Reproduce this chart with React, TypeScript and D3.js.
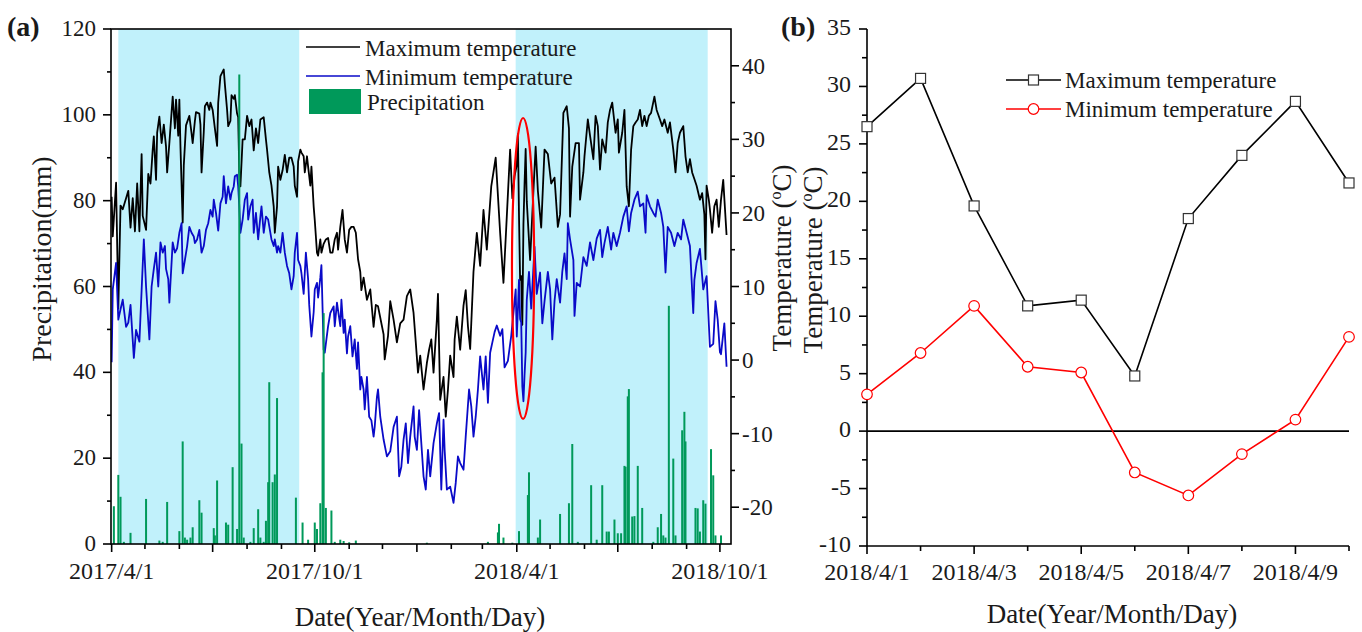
import React from "react";
import * as d3 from "d3";

const START = new Date(2017, 3, 1);

// [day since 2017/4/1, °C]
const maxTemperature: [number, number][] = [
  [0, 22.2], [1, 16.8], [4, 24.1], [6, 7], [8, 21], [10, 20.5], [13, 22], [15, 23], [17, 18], [19, 22],
  [21, 17.5], [23, 24], [25, 17.5], [27, 28], [28, 19.6], [31, 17.7], [33, 25.3], [35, 24], [37, 28.6], [38, 30.4],
  [40, 24.5], [41, 30.9], [43, 33.1], [45, 29.5], [47, 32], [49, 29], [50, 25.5], [52, 29.5], [55, 35.8], [57, 31.5],
  [58, 35.4], [60, 30.5], [61, 35.4], [62, 29], [64, 18.7], [65, 26.5], [67, 31.9], [70, 33.2], [72, 30.8], [73, 29.5],
  [75, 32.5], [76, 33.7], [79, 33.5], [80, 32], [81, 25.5], [83, 31], [84, 34.5], [86, 35], [88, 34], [89, 35],
  [91, 34], [93, 31.5], [95, 29.1], [96, 35], [98, 38.6], [100, 39.2], [101, 39.5], [102, 37.5], [104, 34], [105, 31.8],
  [107, 32.5], [108, 36], [110, 35.5], [111, 36], [113, 33.5], [114, 33], [115, 25.5], [116, 23.6], [118, 30], [120, 30],
  [122, 33.2], [124, 31.8], [126, 32.7], [128, 28.5], [130, 31.5], [132, 29.5], [134, 32.7], [137, 33], [139, 30], [140, 28.6],
  [142, 25.5], [144, 23.7], [146, 20.9], [147, 17.3], [149, 20.9], [150, 26.3], [152, 24.5], [154, 25.8], [156, 27.9], [158, 25.5],
  [160, 27.5], [162, 27.5], [164, 26.3], [165, 23.7], [167, 22.2], [168, 27], [170, 28.6], [171, 28.2], [173, 27.7], [174, 25.5],
  [176, 27.7], [177, 26.3], [179, 23.7], [180, 26.3], [182, 20.9], [183, 19], [185, 14.6], [186, 14.2], [188, 16.4], [189, 14.6],
  [191, 15.8], [193, 16.4], [195, 16.6], [197, 14.6], [199, 14.6], [201, 16.4], [203, 17.3], [204, 15], [206, 18.1], [208, 20.4],
  [210, 16.4], [212, 14.6], [214, 17.7], [216, 18.1], [218, 18.1], [220, 17.3], [222, 13.7], [224, 12], [225, 9.5], [227, 11.2],
  [230, 8.2], [233, 9.6], [236, 4.5], [238, 7.5], [240, 7.3], [243, 5], [245, 3.5], [246, 0.1], [249, 3.3], [251, 8],
  [254, 5.5], [257, 2.4], [260, 5], [263, 5.5], [266, 8.7], [269, 9.6], [272, 6.4], [274, 2.4], [276, -1.7], [278, 0.6],
  [281, -4], [284, -0.4], [286, 1.4], [288, 2.8], [290, -1.7], [293, 5.5], [294, 9], [296, -5.4], [299, -2.3], [301, -7.7],
  [303, -4], [305, 0.6], [308, -2.3], [309, 2.8], [311, 5.9], [314, 1.4], [317, 7.4], [319, 9.5], [321, 4.6], [323, 1.5],
  [325, 8.5], [326, 12], [329, 17.3], [332, 12.8], [335, 20.4], [338, 15], [342, 23.6], [346, 27.5], [350, 17.3], [353, 10.5],
  [356, 19.5], [359, 28.6], [361, 22], [363, 25], [365, 26.5], [366, 30.7], [367, 19.6], [368, 10.9], [369, 11.4], [370, 4.8],
  [371, 18.5], [372, 24], [373, 28.7], [374, 21.6], [377, 13.6], [380, 23], [382, 29], [384, 23], [387, 18], [390, 28.6],
  [393, 28], [396, 24], [399, 24.8], [402, 18.1], [404, 19.8], [407, 33.6], [410, 34.5], [412, 31.5], [413, 19.5], [415, 26.3],
  [418, 29.5], [421, 29.5], [422, 21.8], [425, 25.5], [426, 27.7], [429, 32.7], [431, 30.5], [434, 27.3], [436, 33.2], [438, 31.8],
  [440, 25.9], [442, 30], [445, 28.2], [447, 32.3], [449, 34], [451, 35], [454, 30.9], [456, 32.7], [457, 28.2], [460, 30.9],
  [462, 34], [464, 23.6], [466, 20.9], [468, 28.6], [470, 31.8], [472, 32.3], [474, 32.7], [476, 34], [478, 31.8], [480, 33.2],
  [482, 31.8], [484, 33.2], [486, 33.6], [489, 35.8], [491, 34], [494, 32.7], [496, 31.8], [498, 32.7], [501, 30.9], [503, 32.3],
  [506, 28.6], [508, 25.5], [510, 29.5], [512, 30.9], [515, 31.8], [517, 27.7], [519, 25.5], [521, 27.3], [523, 25.5], [525, 24.6],
  [527, 23.7], [530, 21.8], [532, 22.7], [534, 19.8], [535, 13.7], [536, 23.7], [538, 21.8], [539, 20.5], [541, 17.3], [543, 20.9],
  [545, 21.8], [547, 18.1], [549, 21.8], [551, 24.5], [554, 17],
];

const minTemperature: [number, number][] = [
  [0, -0.3], [1, 9.6], [4, 13.2], [6, 5.5], [8, 6.9], [10, 8.2], [13, 4.5], [15, 5.1], [17, 7.5], [20, 0.3],
  [22, 4.1], [25, 2.5], [27, 9.5], [29, 16.4], [31, 10], [34, 2.8], [36, 10], [38, 12.4], [40, 14.6], [42, 10],
  [44, 16], [46, 14.6], [48, 15.5], [49, 12.4], [51, 11], [52, 7.8], [55, 16], [57, 14.6], [59, 15.2], [61, 17.3],
  [63, 18.6], [64, 11.8], [66, 13.6], [68, 15.5], [70, 18.1], [72, 17.3], [74, 16.8], [75, 15.9], [77, 16.4], [79, 17.7],
  [81, 14.6], [83, 15.5], [85, 17.7], [87, 18.6], [89, 20.4], [91, 19.5], [92, 21.8], [94, 20], [96, 17.6], [98, 21.3],
  [100, 22.2], [101, 25], [103, 21.3], [105, 23.6], [107, 21.8], [108, 22.7], [110, 23.6], [111, 25], [113, 25.2], [114, 23.6],
  [115, 20.9], [116, 17.3], [118, 19.1], [120, 21.8], [122, 22.7], [123, 19.1], [125, 20.9], [127, 21.8], [128, 17.3], [130, 20],
  [132, 16.4], [134, 19.5], [135, 20.9], [137, 17.3], [139, 19.5], [141, 19.1], [143, 17.3], [144, 16.4], [146, 15.5], [147, 16.4],
  [149, 14.6], [150, 15.5], [152, 14.6], [154, 17.3], [156, 14.6], [158, 12.8], [160, 11.8], [162, 9.6], [164, 11.4], [165, 14.6],
  [167, 17.3], [168, 13.6], [170, 12.8], [171, 11.8], [173, 9], [175, 14.6], [177, 11], [178, 7.5], [180, 3.2], [182, 6.5],
  [183, 9.6], [185, 10.5], [186, 8.5], [188, 11.2], [189, 12.9], [191, 1.4], [192, 1], [195, 4.6], [197, 6.4], [200, 7.3],
  [201, 4.6], [203, 7.8], [206, 4.6], [207, 8.2], [209, 3.7], [210, 5.5], [212, 0.9], [213, 3.2], [215, 4.6], [217, 0.5],
  [219, 2.8], [221, -1.2], [222, 2.4], [224, -4], [225, -2.3], [227, -4], [228, -6.7], [230, -2.3], [232, -7.7], [234, -8.2],
  [236, -10.4], [237, -9.1], [239, -5], [240, -4], [242, -7.7], [245, -10.8], [248, -13.1], [251, -12.4], [254, -9.1], [257, -7.7],
  [259, -15.8], [261, -14.5], [263, -10.8], [265, -8.6], [267, -14], [269, -10.4], [272, -6.3], [273, -10.4], [275, -12.2], [277, -6.8],
  [279, -11.3], [281, -15.8], [283, -17.6], [285, -12.2], [287, -15.8], [290, -11.3], [293, -8.6], [295, -7.2], [297, -17.6], [299, -8.1],
  [300, -12.2], [302, -17.6], [305, -17.2], [308, -19.4], [310, -16.7], [312, -13.1], [314, -14], [317, -14.9], [319, -10.4], [322, -4],
  [324, -6.3], [326, -10.4], [328, -7.7], [330, -4], [332, 0.5], [335, -4], [337, 0.5], [339, -5.8], [341, 1], [343, 2.4],
  [345, 3.8], [347, 4.7], [350, 3.3], [352, 4.2], [354, -1], [357, -0.1], [360, 3.3], [362, 6.4], [364, 9.6], [365, 3.2],
  [366, 6.8], [367, 10.9], [368, 5.6], [369, 5.1], [370, -3.6], [371, -5.6], [372, -2], [373, 1], [374, 8.2], [376, 12],
  [378, 7], [381, 15.4], [383, 9], [386, 11.9], [388, 5], [390, 8], [393, 12], [395, 9.6], [397, 2.8], [399, 8],
  [401, 11], [404, 7.8], [406, 12], [408, 14.5], [410, 11], [411, 18.6], [413, 16.4], [416, 13.6], [417, 6], [419, 10.5],
  [422, 10], [425, 14], [428, 12.8], [431, 16], [434, 13.6], [437, 16.5], [440, 17.7], [442, 14], [444, 15.9], [447, 18.1],
  [450, 15], [452, 17.3], [455, 15.5], [458, 17.3], [461, 19.5], [464, 20.9], [466, 17.5], [468, 20], [471, 21.8], [474, 22.9],
  [476, 20.9], [479, 21.3], [481, 17.3], [482, 22.4], [485, 20.9], [488, 20], [490, 19.5], [492, 21.8], [495, 20], [497, 18.1],
  [499, 11.9], [501, 18.1], [504, 17.3], [507, 15.5], [510, 17.3], [513, 16.4], [515, 19.1], [518, 17.3], [521, 15.5], [524, 6.4],
  [525, 10.9], [527, 13.2], [530, 15.1], [533, 9.6], [536, 11.4], [539, 1.8], [542, 2.2], [544, 8], [546, 5.5], [548, 1.1],
  [549, 0.8], [552, 5], [554, -0.9],
];

// [day since 2017/4/1, mm]
const precipitation: [number, number][] = [
  [2, 8.8], [6, 16.1], [8, 11], [11, 0.5], [17, 2.6], [31, 10.5], [43, 0.8], [46, 0.5], [50, 9.8], [61, 3],
  [64, 23.9], [66, 1.5], [68, 1], [71, 1.5], [73, 3.9], [79, 10.2], [81, 7.3], [92, 3.7], [93, 2], [95, 14.8],
  [103, 5], [105, 4.5], [109, 17.9], [113, 3.5], [115, 109.4], [117, 23.4], [119, 1.5], [125, 0.5], [128, 3.7], [132, 8.1],
  [134, 1.5], [137, 0.5], [139, 5.4], [141, 14.4], [142, 37.7], [145, 14.4], [147, 16.2], [149, 34], [166, 10.8], [172, 5],
  [177, 1], [183, 5], [185, 3.5], [188, 9.5], [190, 40], [191, 53.8], [193, 8.4], [198, 7.8], [201, 0.5], [206, 1],
  [209, 0.7], [214, 0.4], [220, 0.8], [284, 0.3], [339, 0.5], [348, 2.7], [349, 4.7], [353, 1.5], [361, 0.3], [367, 3],
  [375, 11.4], [376, 16.7], [384, 1.5], [386, 5.7], [404, 7], [412, 9.5], [415, 23.3], [420, 0.5], [432, 13.7], [437, 1],
  [442, 13.7], [446, 2.9], [448, 2.9], [453, 5.7], [456, 2.5], [459, 2.5], [462, 18.2], [463, 18], [465, 34.4], [466, 36.1],
  [469, 6.4], [471, 6.5], [474, 18.2], [478, 8.4], [488, 0.5], [492, 3.9], [495, 7], [497, 2], [499, 1.5], [502, 55.5],
  [506, 19.9], [508, 2], [514, 26.5], [516, 30.8], [517, 23.9], [526, 8.4], [528, 8.3], [530, 2.9], [533, 10.2], [535, 9.4],
  [540, 22.1], [542, 16], [544, 2], [549, 2],
];

// growing-season shading, [start day, end day]
const seasons: [number, number][] = [[6, 169], [364, 537]];

// panel (b)
const bDates = ["2018/4/1", "2018/4/2", "2018/4/3", "2018/4/4", "2018/4/5", "2018/4/6", "2018/4/7", "2018/4/8", "2018/4/9", "2018/4/10"];
const bMax = [26.5, 30.7, 19.6, 10.9, 11.4, 4.8, 18.5, 24.0, 28.7, 21.6];
const bMin = [3.2, 6.8, 10.9, 5.6, 5.1, -3.6, -5.6, -2.0, 1.0, 8.2];

const FONT = "'Liberation Serif','Times New Roman',Times,serif";
const GREEN = "#00995a";
const BLUE = "#0a0ac8";
const CYAN = "#c1f1fb";
const INK = "#1a1a1a";

const parseB = d3.timeParse("%Y/%m/%d");
const fmtA = d3.timeFormat("%Y/%-m/%-d");

export default function App() {
  const a = { left: 111, right: 731, top: 29, bottom: 544 };
  const xA = d3.scaleTime().domain([new Date(2017, 2, 31, 10), new Date(2018, 9, 11)]).range([a.left, a.right]);
  const yP = d3.scaleLinear().domain([0, 120]).range([a.bottom, a.top]);
  const yT = d3.scaleLinear().domain([-25, 45]).range([a.bottom, a.top]);
  const dd = (d: number) => d3.timeDay.offset(START, d);

  const tLine = d3.line<[number, number]>().x((p) => xA(dd(p[0]))).y((p) => yT(p[1]));
  const months = d3.timeMonth.range(new Date(2017, 3, 1), new Date(2018, 9, 2));

  // ellipse around early April 2018
  const eCx = xA(d3.timeHour.offset(dd(370), 16));
  const eRx = xA(dd(380)) - xA(dd(370));
  const eTop = yT(32.9), eBot = yT(-8);

  const b = { left: 867, right: 1349, top: 29, bottom: 546 };
  const bx = bDates.map((s) => parseB(s) as Date);
  const xB = d3.scaleTime().domain([bx[0], bx[bx.length - 1]]).range([b.left, b.right]);
  const yB = d3.scaleLinear().domain([-10, 35]).range([b.bottom, b.top]);
  const bLine = d3.line<number>().x((_, i) => xB(bx[i])).y((v) => yB(v));

  return (
    <svg width={1362} height={632} style={{ position: "absolute", left: 0, top: 0, background: "#fff" }} fontFamily={FONT}>
      <defs>
        <clipPath id="clipA">
          <rect x={a.left} y={a.top} width={a.right - a.left} height={a.bottom - a.top} />
        </clipPath>
      </defs>

      {/* ---------- panel (a) ---------- */}
      {seasons.map(([s, e], i) => (
        <rect key={i} x={xA(dd(s))} y={a.top} width={xA(dd(e)) - xA(dd(s))} height={a.bottom - a.top} fill={CYAN} />
      ))}
      <g clipPath="url(#clipA)">
        <path d={tLine(maxTemperature) || ""} fill="none" stroke="#000" strokeWidth={1.8} strokeLinejoin="round" />
        <path d={tLine(minTemperature) || ""} fill="none" stroke={BLUE} strokeWidth={1.8} strokeLinejoin="round" />
        {precipitation.map(([d, v], i) => (
          <rect key={i} x={xA(dd(d)) - 1} y={yP(v)} width={2} height={yP(0) - yP(v)} fill={GREEN} />
        ))}
        <ellipse cx={eCx} cy={(eTop + eBot) / 2} rx={eRx} ry={(eBot - eTop) / 2} fill="none" stroke="#f00" strokeWidth={2.2} />
      </g>
      <rect x={a.left} y={a.top} width={a.right - a.left} height={a.bottom - a.top} fill="none" stroke="#000" strokeWidth={1.6} />

      {/* bottom axis */}
      {months.map((m, i) => {
        const major = m.getMonth() % 3 === 0;
        const x = xA(m);
        return (
          <g key={i}>
            <line x1={x} x2={x} y1={a.bottom} y2={a.bottom + (major ? 8 : 5)} stroke="#000" strokeWidth={1.6} />
            {m.getMonth() % 6 === 3 && (
              <text x={x} y={579} fontSize={24} textAnchor="middle" fill={INK}>{fmtA(m)}</text>
            )}
          </g>
        );
      })}
      {/* left axis */}
      {d3.range(0, 121, 10).map((v) => {
        const major = v % 20 === 0;
        return (
          <g key={v}>
            <line x1={a.left - (major ? 8 : 4)} x2={a.left} y1={yP(v)} y2={yP(v)} stroke="#000" strokeWidth={1.6} />
            {major && (
              <text x={96} y={yP(v) + 7} fontSize={23} textAnchor="end" fill={INK}>{v}</text>
            )}
          </g>
        );
      })}
      {/* right axis */}
      {d3.range(-20, 41, 5).map((v) => {
        const major = v % 10 === 0;
        return (
          <g key={v}>
            <line x1={a.right} x2={a.right + (major ? 8 : 4)} y1={yT(v)} y2={yT(v)} stroke="#000" strokeWidth={1.6} />
            {major && (
              <text x={742} y={yT(v) + 8} fontSize={23} textAnchor="start" fill={INK}>{v}</text>
            )}
          </g>
        );
      })}

      <text transform="translate(51,259) rotate(-90)" fontSize={28} textAnchor="middle" fill={INK}>Precipitation(mm)</text>
      <text transform="translate(791,258) rotate(-90)" fontSize={27} textAnchor="middle" fill={INK}>
        Temperature (<tspan fontSize={16} dy={-10}>o</tspan><tspan dy={10}>C)</tspan>
      </text>
      <text x={420} y={626} fontSize={27} textAnchor="middle" fill={INK}>Date(Year/Month/Day)</text>
      <text x={7} y={36} fontSize={28} fontWeight="bold" fill={INK}>(a)</text>

      {/* legend (a) */}
      <line x1={306} x2={360} y1={47} y2={47} stroke="#000" strokeWidth={1.6} />
      <text x={365} y={56} fontSize={23} fill={INK}>Maximum temperature</text>
      <line x1={306} x2={360} y1={76} y2={76} stroke={BLUE} strokeWidth={1.6} />
      <text x={365} y={85} fontSize={23} fill={INK}>Minimum temperature</text>
      <rect x={309} y={89} width={52} height={25} fill={GREEN} />
      <text x={367} y={110} fontSize={23} fill={INK}>Precipitation</text>

      {/* ---------- panel (b) ---------- */}
      <line x1={b.left} x2={b.left} y1={b.top} y2={b.bottom} stroke="#000" strokeWidth={1.6} />
      <line x1={b.left} x2={b.right} y1={b.bottom} y2={b.bottom} stroke="#000" strokeWidth={1.6} />
      <line x1={b.left} x2={b.right} y1={yB(0)} y2={yB(0)} stroke="#000" strokeWidth={1.6} />
      {bx.map((d, i) => {
        const x = xB(d);
        const major = i % 2 === 0;
        return (
          <g key={i}>
            <line x1={x} x2={x} y1={b.bottom} y2={b.bottom + (major ? 8 : 5)} stroke="#000" strokeWidth={1.6} />
            {major && (
              <text x={x} y={580} fontSize={24} textAnchor="middle" fill={INK}>{bDates[i]}</text>
            )}
          </g>
        );
      })}
      {d3.range(-10, 35.1, 2.5).map((v) => {
        const major = v % 5 === 0;
        return (
          <g key={v}>
            <line x1={b.left - (major ? 8 : 5)} x2={b.left} y1={yB(v)} y2={yB(v)} stroke="#000" strokeWidth={1.6} />
            {major && (
              <text x={851} y={yB(v) + 6} fontSize={24} textAnchor="end" fill={INK}>{v}</text>
            )}
          </g>
        );
      })}
      <path d={bLine(bMax) || ""} fill="none" stroke="#000" strokeWidth={1.6} />
      <path d={bLine(bMin) || ""} fill="none" stroke="#f00" strokeWidth={1.6} />
      {bMax.map((v, i) => (
        <rect key={i} x={xB(bx[i]) - 5} y={yB(v) - 5} width={10} height={10} fill="#fff" stroke="#333" strokeWidth={1.2} />
      ))}
      {bMin.map((v, i) => (
        <circle key={i} cx={xB(bx[i])} cy={yB(v)} r={5.3} fill="#fff" stroke="#f00" strokeWidth={1.2} />
      ))}

      <text transform="translate(822,260) rotate(-90)" fontSize={27} textAnchor="middle" fill={INK}>
        Temperature (<tspan fontSize={16} dy={-10}>o</tspan><tspan dy={10}>C)</tspan>
      </text>
      <text x={1112} y={623} fontSize={27} textAnchor="middle" fill={INK}>Date(Year/Month/Day)</text>
      <text x={781} y={36} fontSize={28} fontWeight="bold" fill={INK}>(b)</text>

      {/* legend (b) */}
      <line x1={1006} x2={1061} y1={80} y2={80} stroke="#000" strokeWidth={1.6} />
      <rect x={1028.5} y={75} width={10} height={10} fill="#fff" stroke="#333" strokeWidth={1.2} />
      <text x={1065} y={88} fontSize={23} fill={INK}>Maximum temperature</text>
      <line x1={1006} x2={1061} y1={109} y2={109} stroke="#f00" strokeWidth={1.6} />
      <circle cx={1033.5} cy={109} r={5.3} fill="#fff" stroke="#f00" strokeWidth={1.2} />
      <text x={1065} y={117} fontSize={23} fill={INK}>Minimum temperature</text>
    </svg>
  );
}
